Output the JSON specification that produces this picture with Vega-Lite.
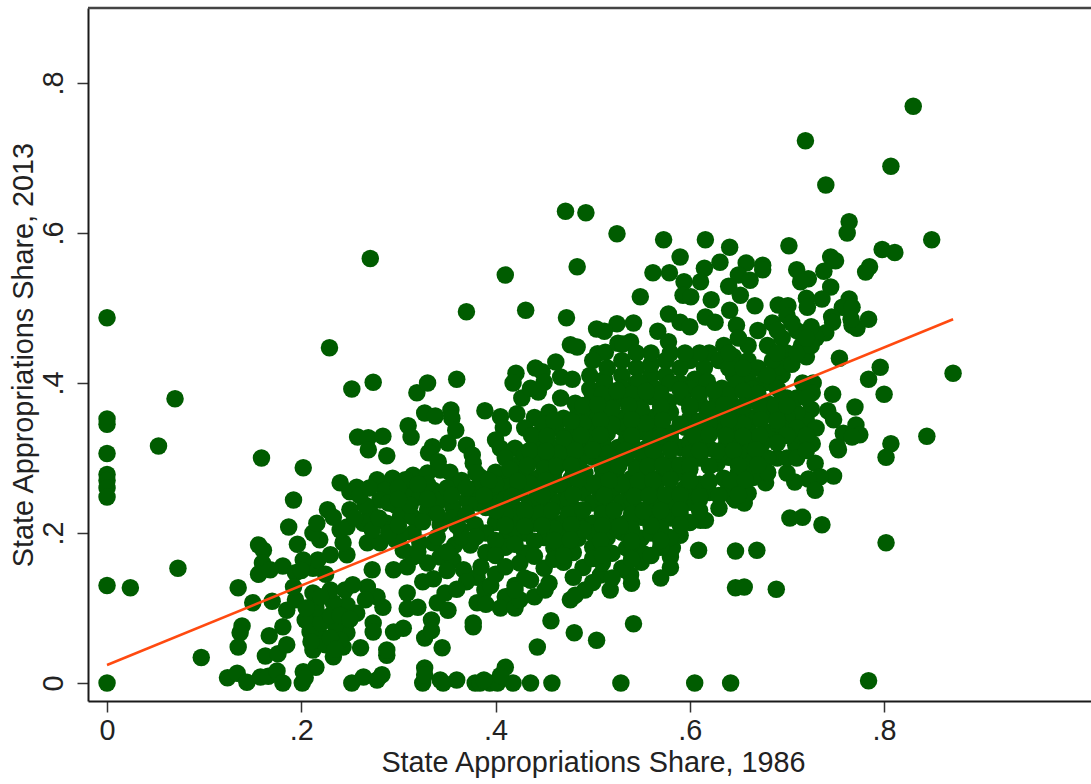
{"$schema":"https://vega.github.io/schema/vega-lite/v6.json","width":1003,"height":693,"autosize":"none","padding":{"left":88,"top":8,"right":0,"bottom":83},"background":"white","config":{"view":{"stroke":null},"font":"Liberation Sans"},
"layer":[
{"data":{"values":[
{"x":0,"y":0.487},{"x":0,"y":0.352},{"x":0,"y":0.345},{"x":0,"y":0.306},{"x":0,"y":0.278},{"x":0,"y":0.27},{"x":0,"y":0.26},{"x":0,"y":0.248},{"x":0,"y":0.13},{"x":0,"y":0},{"x":0.024,"y":0.127},{"x":0.053,"y":0.316},{"x":0.07,"y":0.379},{"x":0.073,"y":0.153},{"x":0.097,"y":0.034},
{"x":0.83,"y":0.769},{"x":0.719,"y":0.723},{"x":0.74,"y":0.664},{"x":0.807,"y":0.689},{"x":0.849,"y":0.591},{"x":0.811,"y":0.574},{"x":0.798,"y":0.578},{"x":0.785,"y":0.555},{"x":0.781,"y":0.548},{"x":0.271,"y":0.566},{"x":0.37,"y":0.495},{"x":0.229,"y":0.447},{"x":0.252,"y":0.392},{"x":0.274,"y":0.401},
{"x":0.159,"y":0.3},{"x":0.202,"y":0.287},{"x":0.192,"y":0.244},{"x":0.187,"y":0.208},{"x":0.196,"y":0.185},{"x":0.156,"y":0.184},{"x":0.161,"y":0.177},{"x":0.16,"y":0.16},{"x":0.156,"y":0.145},{"x":0.181,"y":0.156},{"x":0.168,"y":0.151},{"x":0.194,"y":0.147},{"x":0.135,"y":0.127},{"x":0.15,"y":0.107},{"x":0.17,"y":0.109},{"x":0.139,"y":0.076},{"x":0.137,"y":0.067},{"x":0.135,"y":0.048},{"x":0.167,"y":0.063},{"x":0.163,"y":0.036},{"x":0.176,"y":0.039},{"x":0.185,"y":0.051},{"x":0.181,"y":0.075},
{"x":0.124,"y":0.007},{"x":0.134,"y":0.013},{"x":0.144,"y":0.001},{"x":0.158,"y":0.008},{"x":0.166,"y":0.009},{"x":0.175,"y":0.016},{"x":0.181,"y":0},{"x":0.201,"y":0},{"x":0.202,"y":0.015},{"x":0.215,"y":0.021},{"x":0.204,"y":0.007},{"x":0.252,"y":0},{"x":0.264,"y":0.008},{"x":0.278,"y":0.004},{"x":0.283,"y":0.011},{"x":0.327,"y":0.02},{"x":0.325,"y":0},{"x":0.343,"y":0.004},{"x":0.36,"y":0.004},{"x":0.379,"y":0},{"x":0.327,"y":0.011},{"x":0.346,"y":0},
{"x":0.345,"y":0.047},{"x":0.327,"y":0.06},{"x":0.288,"y":0.037},{"x":0.288,"y":0.044},{"x":0.261,"y":0.047},{"x":0.274,"y":0.08},{"x":0.274,"y":0.068},{"x":0.295,"y":0.068},{"x":0.305,"y":0.073},{"x":0.377,"y":0.075},{"x":0.377,"y":0.08},{"x":0.309,"y":0.12},{"x":0.309,"y":0.099},{"x":0.32,"y":0.101},{"x":0.334,"y":0.084},{"x":0.34,"y":0.107},{"x":0.348,"y":0.12},{"x":0.351,"y":0.097},{"x":0.325,"y":0.135},{"x":0.336,"y":0.139},{"x":0.381,"y":0.107},{"x":0.334,"y":0.07},
{"x":0.233,"y":0.035},{"x":0.212,"y":0.044},{"x":0.243,"y":0.048},{"x":0.247,"y":0.067},{"x":0.257,"y":0.093},{"x":0.247,"y":0.104},{"x":0.233,"y":0.107},{"x":0.219,"y":0.088},{"x":0.185,"y":0.097},{"x":0.194,"y":0.111},{"x":0.212,"y":0.12},{"x":0.192,"y":0.128},{"x":0.204,"y":0.084},{"x":0.219,"y":0.064},{"x":0.235,"y":0.077},{"x":0.225,"y":0.051},{"x":0.24,"y":0.057},{"x":0.209,"y":0.068},{"x":0.23,"y":0.124},{"x":0.245,"y":0.124},{"x":0.284,"y":0.101},{"x":0.278,"y":0.115},{"x":0.268,"y":0.128},{"x":0.253,"y":0.131},{"x":0.266,"y":0.111},
{"x":0.309,"y":0.155},{"x":0.295,"y":0.151},{"x":0.273,"y":0.151},{"x":0.247,"y":0.171},{"x":0.243,"y":0.187},{"x":0.23,"y":0.171},{"x":0.212,"y":0.153},{"x":0.217,"y":0.164},{"x":0.202,"y":0.164},{"x":0.219,"y":0.191},{"x":0.212,"y":0.2},{"x":0.216,"y":0.213},{"x":0.227,"y":0.231},{"x":0.24,"y":0.204},{"x":0.25,"y":0.231},{"x":0.233,"y":0.221},{"x":0.247,"y":0.208},{"x":0.24,"y":0.267},{"x":0.257,"y":0.261},{"x":0.25,"y":0.255},{"x":0.278,"y":0.271},{"x":0.294,"y":0.273},{"x":0.286,"y":0.257},{"x":0.271,"y":0.227},{"x":0.268,"y":0.187},{"x":0.281,"y":0.187},{"x":0.281,"y":0.244},{"x":0.264,"y":0.213},{"x":0.288,"y":0.213},{"x":0.309,"y":0.253},{"x":0.315,"y":0.277},{"x":0.33,"y":0.28},{"x":0.343,"y":0.284},{"x":0.353,"y":0.281},{"x":0.36,"y":0.264},{"x":0.322,"y":0.248},{"x":0.336,"y":0.257},{"x":0.302,"y":0.221},{"x":0.315,"y":0.221},{"x":0.33,"y":0.231},{"x":0.343,"y":0.244},{"x":0.356,"y":0.235},{"x":0.371,"y":0.244},{"x":0.381,"y":0.24},
{"x":0.315,"y":0.168},{"x":0.305,"y":0.177},{"x":0.322,"y":0.187},{"x":0.315,"y":0.2},{"x":0.336,"y":0.187},{"x":0.343,"y":0.168},{"x":0.356,"y":0.164},{"x":0.367,"y":0.151},{"x":0.381,"y":0.141},{"x":0.297,"y":0.191},{"x":0.297,"y":0.237},{"x":0.273,"y":0.204},{"x":0.266,"y":0.237},{"x":0.312,"y":0.237},{"x":0.302,"y":0.197},{"x":0.343,"y":0.211},{"x":0.364,"y":0.204},{"x":0.379,"y":0.211},{"x":0.374,"y":0.184},{"x":0.358,"y":0.184},
{"x":0.258,"y":0.328},{"x":0.269,"y":0.327},{"x":0.269,"y":0.311},{"x":0.284,"y":0.329},{"x":0.288,"y":0.303},{"x":0.31,"y":0.343},{"x":0.313,"y":0.328},{"x":0.327,"y":0.36},{"x":0.338,"y":0.356},{"x":0.354,"y":0.364},{"x":0.355,"y":0.353},{"x":0.359,"y":0.337},{"x":0.351,"y":0.32},{"x":0.335,"y":0.315},{"x":0.331,"y":0.307},{"x":0.37,"y":0.317},{"x":0.376,"y":0.304},{"x":0.377,"y":0.293},{"x":0.341,"y":0.295},{"x":0.319,"y":0.387},{"x":0.33,"y":0.4},{"x":0.36,"y":0.405},{"x":0.307,"y":0.271},
{"x":0.389,"y":0.124},{"x":0.395,"y":0.13},{"x":0.41,"y":0.115},{"x":0.42,"y":0.13},{"x":0.405,"y":0.1},{"x":0.39,"y":0.105},{"x":0.42,"y":0.1},{"x":0.44,"y":0.115},{"x":0.443,"y":0.048},{"x":0.457,"y":0.083},{"x":0.481,"y":0.067},{"x":0.504,"y":0.057},{"x":0.542,"y":0.079},
{"x":0.384,"y":0},{"x":0.394,"y":0},{"x":0.402,"y":0},{"x":0.41,"y":0.021},{"x":0.418,"y":0},{"x":0.436,"y":0},{"x":0.458,"y":0},{"x":0.529,"y":0},{"x":0.605,"y":0},{"x":0.642,"y":0},{"x":0.784,"y":0.003},{"x":0.388,"y":0.004},{"x":0.405,"y":0.01},
{"x":0.647,"y":0.176},{"x":0.669,"y":0.177},{"x":0.647,"y":0.127},{"x":0.656,"y":0.128},{"x":0.689,"y":0.125},{"x":0.647,"y":0.244},{"x":0.656,"y":0.24},{"x":0.609,"y":0.177},{"x":0.58,"y":0.168},{"x":0.582,"y":0.18},{"x":0.611,"y":0.217},{"x":0.616,"y":0.217},{"x":0.59,"y":0.197},{"x":0.554,"y":0.171},{"x":0.533,"y":0.151},{"x":0.518,"y":0.124},{"x":0.539,"y":0.144},{"x":0.508,"y":0.144},{"x":0.492,"y":0.124},{"x":0.477,"y":0.111},{"x":0.482,"y":0.117},{"x":0.451,"y":0.124},{"x":0.436,"y":0.137},{"x":0.425,"y":0.111},{"x":0.42,"y":0.124},
{"x":0.472,"y":0.629},{"x":0.493,"y":0.627},{"x":0.525,"y":0.599},{"x":0.41,"y":0.544},{"x":0.484,"y":0.555},{"x":0.431,"y":0.497},{"x":0.473,"y":0.487},{"x":0.573,"y":0.591},{"x":0.616,"y":0.591},{"x":0.641,"y":0.581},{"x":0.59,"y":0.568},{"x":0.702,"y":0.583},{"x":0.764,"y":0.615},{"x":0.762,"y":0.6},{"x":0.562,"y":0.547},{"x":0.579,"y":0.547},{"x":0.615,"y":0.553},{"x":0.631,"y":0.561},{"x":0.594,"y":0.535},{"x":0.611,"y":0.535},{"x":0.549,"y":0.515},{"x":0.593,"y":0.517},{"x":0.601,"y":0.515},{"x":0.622,"y":0.511},{"x":0.658,"y":0.56},{"x":0.675,"y":0.557},{"x":0.675,"y":0.551},{"x":0.65,"y":0.544},{"x":0.662,"y":0.537},{"x":0.64,"y":0.529},{"x":0.652,"y":0.517},{"x":0.71,"y":0.551},{"x":0.722,"y":0.539},{"x":0.714,"y":0.535},{"x":0.745,"y":0.568},{"x":0.75,"y":0.563},{"x":0.738,"y":0.549},{"x":0.745,"y":0.528},{"x":0.736,"y":0.512},{"x":0.72,"y":0.513},{"x":0.764,"y":0.512},{"x":0.757,"y":0.501},{"x":0.767,"y":0.501},{"x":0.746,"y":0.488},{"x":0.747,"y":0.481},{"x":0.74,"y":0.467},{"x":0.767,"y":0.477},{"x":0.772,"y":0.473},{"x":0.754,"y":0.433},
{"x":0.641,"y":0.497},{"x":0.667,"y":0.503},{"x":0.691,"y":0.504},{"x":0.701,"y":0.503},{"x":0.721,"y":0.501},{"x":0.578,"y":0.492},{"x":0.616,"y":0.488},{"x":0.626,"y":0.481},{"x":0.648,"y":0.477},{"x":0.59,"y":0.481},{"x":0.6,"y":0.475},{"x":0.567,"y":0.469},{"x":0.578,"y":0.455},{"x":0.542,"y":0.48},{"x":0.525,"y":0.479},{"x":0.504,"y":0.472},{"x":0.512,"y":0.469},{"x":0.477,"y":0.451},{"x":0.484,"y":0.448},{"x":0.505,"y":0.439},{"x":0.513,"y":0.441},{"x":0.526,"y":0.453},{"x":0.539,"y":0.455},{"x":0.531,"y":0.452},{"x":0.462,"y":0.428},{"x":0.441,"y":0.42},{"x":0.421,"y":0.413},{"x":0.418,"y":0.4},{"x":0.448,"y":0.415},{"x":0.467,"y":0.408},{"x":0.479,"y":0.405},{"x":0.427,"y":0.38},{"x":0.444,"y":0.388},{"x":0.389,"y":0.363},{"x":0.405,"y":0.355},{"x":0.408,"y":0.34},{"x":0.422,"y":0.359},{"x":0.4,"y":0.324},{"x":0.405,"y":0.313},
{"x":0.747,"y":0.385},{"x":0.725,"y":0.365},{"x":0.742,"y":0.363},{"x":0.748,"y":0.351},{"x":0.77,"y":0.368},{"x":0.758,"y":0.333},{"x":0.753,"y":0.311},{"x":0.729,"y":0.293},{"x":0.748,"y":0.276},{"x":0.734,"y":0.275},{"x":0.722,"y":0.272},{"x":0.708,"y":0.268},{"x":0.726,"y":0.319},{"x":0.709,"y":0.317},{"x":0.714,"y":0.331},{"x":0.716,"y":0.4},{"x":0.727,"y":0.4},{"x":0.726,"y":0.387},{"x":0.695,"y":0.411},{"x":0.691,"y":0.421},{"x":0.678,"y":0.267},{"x":0.657,"y":0.271},{"x":0.595,"y":0.26},{"x":0.609,"y":0.26},{"x":0.645,"y":0.247},
{"x":0.871,"y":0.413},{"x":0.844,"y":0.329},{"x":0.807,"y":0.319},{"x":0.802,"y":0.301},{"x":0.8,"y":0.385},{"x":0.796,"y":0.421},{"x":0.784,"y":0.405},{"x":0.784,"y":0.485},{"x":0.766,"y":0.485},{"x":0.771,"y":0.344},{"x":0.775,"y":0.331},{"x":0.767,"y":0.328},{"x":0.752,"y":0.315},{"x":0.802,"y":0.187},{"x":0.736,"y":0.211},{"x":0.703,"y":0.22},{"x":0.716,"y":0.221},{"x":0.729,"y":0.257},
{"x":0.72,"y":0.35},{"x":0.71,"y":0.36},{"x":0.73,"y":0.34},{"x":0.7,"y":0.35},{"x":0.69,"y":0.3},{"x":0.7,"y":0.28},{"x":0.685,"y":0.33},{"x":0.7,"y":0.38},{"x":0.68,"y":0.28},
{"x":0.62,"y":0.44},{"x":0.635,"y":0.45},{"x":0.6,"y":0.43},{"x":0.615,"y":0.42},{"x":0.63,"y":0.43},{"x":0.645,"y":0.435},{"x":0.66,"y":0.43},{"x":0.67,"y":0.42},{"x":0.685,"y":0.43},{"x":0.7,"y":0.44},{"x":0.715,"y":0.45},{"x":0.73,"y":0.46},{"x":0.68,"y":0.45},{"x":0.695,"y":0.46},{"x":0.71,"y":0.47},{"x":0.725,"y":0.475},{"x":0.67,"y":0.47},{"x":0.685,"y":0.48},{"x":0.7,"y":0.49},{"x":0.72,"y":0.435},{"x":0.705,"y":0.425},{"x":0.66,"y":0.41},{"x":0.675,"y":0.4},{"x":0.645,"y":0.41},
{"x":0.5,"y":0.43},{"x":0.515,"y":0.42},{"x":0.53,"y":0.43},{"x":0.545,"y":0.42},{"x":0.56,"y":0.41},{"x":0.575,"y":0.43},{"x":0.59,"y":0.42},{"x":0.605,"y":0.405},{"x":0.497,"y":0.41},{"x":0.512,"y":0.405},{"x":0.53,"y":0.41},{"x":0.545,"y":0.4},{"x":0.56,"y":0.425},{"x":0.575,"y":0.41},{"x":0.59,"y":0.4},
{"x":0.436,"y":0.393},{"x":0.45,"y":0.401},{"x":0.497,"y":0.392},{"x":0.512,"y":0.4},{"x":0.53,"y":0.393},{"x":0.548,"y":0.401},{"x":0.565,"y":0.392},{"x":0.58,"y":0.4},{"x":0.6,"y":0.392},{"x":0.618,"y":0.402},{"x":0.633,"y":0.393},{"x":0.648,"y":0.4},{"x":0.665,"y":0.392},{"x":0.68,"y":0.401},{"x":0.69,"y":0.393},
{"x":0.467,"y":0.38},{"x":0.482,"y":0.373},{"x":0.5,"y":0.381},{"x":0.515,"y":0.374},{"x":0.53,"y":0.38},{"x":0.546,"y":0.373},{"x":0.56,"y":0.382},{"x":0.578,"y":0.375},{"x":0.592,"y":0.381},{"x":0.61,"y":0.373},{"x":0.628,"y":0.38},{"x":0.642,"y":0.374},{"x":0.665,"y":0.381},{"x":0.68,"y":0.373},{"x":0.695,"y":0.38},
{"x":0.44,"y":0.354},{"x":0.455,"y":0.361},{"x":0.47,"y":0.353},{"x":0.485,"y":0.36},{"x":0.5,"y":0.355},{"x":0.516,"y":0.361},{"x":0.53,"y":0.353},{"x":0.548,"y":0.36},{"x":0.562,"y":0.354},{"x":0.58,"y":0.361},{"x":0.6,"y":0.353},{"x":0.618,"y":0.36},{"x":0.632,"y":0.355},{"x":0.648,"y":0.361},{"x":0.665,"y":0.353},{"x":0.68,"y":0.36},{"x":0.7,"y":0.355},
{"x":0.43,"y":0.34},{"x":0.445,"y":0.333},{"x":0.462,"y":0.341},{"x":0.478,"y":0.334},{"x":0.5,"y":0.34},{"x":0.515,"y":0.333},{"x":0.53,"y":0.341},{"x":0.548,"y":0.335},{"x":0.562,"y":0.34},{"x":0.58,"y":0.333},{"x":0.595,"y":0.341},{"x":0.612,"y":0.334},{"x":0.628,"y":0.34},{"x":0.645,"y":0.333},{"x":0.66,"y":0.341},{"x":0.68,"y":0.334},{"x":0.695,"y":0.34},
{"x":0.42,"y":0.313},{"x":0.445,"y":0.32},{"x":0.458,"y":0.314},{"x":0.475,"y":0.321},{"x":0.49,"y":0.313},{"x":0.51,"y":0.32},{"x":0.526,"y":0.314},{"x":0.54,"y":0.321},{"x":0.555,"y":0.313},{"x":0.57,"y":0.32},{"x":0.59,"y":0.314},{"x":0.6,"y":0.321},{"x":0.62,"y":0.313},{"x":0.638,"y":0.32},{"x":0.66,"y":0.314},{"x":0.675,"y":0.32},
{"x":0.41,"y":0.3},{"x":0.425,"y":0.293},{"x":0.44,"y":0.301},{"x":0.455,"y":0.294},{"x":0.47,"y":0.3},{"x":0.486,"y":0.293},{"x":0.5,"y":0.301},{"x":0.52,"y":0.294},{"x":0.534,"y":0.3},{"x":0.55,"y":0.293},{"x":0.565,"y":0.301},{"x":0.58,"y":0.294},{"x":0.61,"y":0.3},{"x":0.628,"y":0.293},{"x":0.64,"y":0.301},{"x":0.66,"y":0.294},{"x":0.68,"y":0.3},
{"x":0.385,"y":0.274},{"x":0.4,"y":0.281},{"x":0.415,"y":0.273},{"x":0.43,"y":0.28},{"x":0.445,"y":0.274},{"x":0.46,"y":0.281},{"x":0.478,"y":0.273},{"x":0.492,"y":0.28},{"x":0.51,"y":0.274},{"x":0.524,"y":0.281},{"x":0.54,"y":0.273},{"x":0.555,"y":0.28},{"x":0.57,"y":0.274},{"x":0.59,"y":0.281},{"x":0.635,"y":0.273},{"x":0.65,"y":0.28},{"x":0.665,"y":0.274},{"x":0.68,"y":0.281},
{"x":0.38,"y":0.26},{"x":0.395,"y":0.253},{"x":0.41,"y":0.261},{"x":0.425,"y":0.254},{"x":0.44,"y":0.26},{"x":0.455,"y":0.253},{"x":0.47,"y":0.261},{"x":0.49,"y":0.254},{"x":0.505,"y":0.26},{"x":0.52,"y":0.253},{"x":0.535,"y":0.261},{"x":0.55,"y":0.254},{"x":0.565,"y":0.26},{"x":0.582,"y":0.253},{"x":0.6,"y":0.261},{"x":0.62,"y":0.254},{"x":0.64,"y":0.26},{"x":0.66,"y":0.253},
{"x":0.39,"y":0.234},{"x":0.405,"y":0.241},{"x":0.42,"y":0.233},{"x":0.435,"y":0.24},{"x":0.45,"y":0.234},{"x":0.465,"y":0.241},{"x":0.48,"y":0.233},{"x":0.5,"y":0.24},{"x":0.515,"y":0.234},{"x":0.53,"y":0.241},{"x":0.545,"y":0.233},{"x":0.56,"y":0.24},{"x":0.58,"y":0.234},{"x":0.6,"y":0.241},{"x":0.63,"y":0.233},
{"x":0.4,"y":0.214},{"x":0.42,"y":0.221},{"x":0.44,"y":0.213},{"x":0.455,"y":0.22},{"x":0.47,"y":0.214},{"x":0.485,"y":0.221},{"x":0.5,"y":0.213},{"x":0.52,"y":0.22},{"x":0.535,"y":0.214},{"x":0.55,"y":0.221},{"x":0.57,"y":0.213},{"x":0.58,"y":0.22},{"x":0.6,"y":0.214},
{"x":0.39,"y":0.2},{"x":0.41,"y":0.193},{"x":0.43,"y":0.2},{"x":0.45,"y":0.194},{"x":0.47,"y":0.201},{"x":0.485,"y":0.193},{"x":0.5,"y":0.2},{"x":0.515,"y":0.194},{"x":0.53,"y":0.201},{"x":0.55,"y":0.193},{"x":0.56,"y":0.2},{"x":0.58,"y":0.194},
{"x":0.39,"y":0.174},{"x":0.41,"y":0.181},{"x":0.43,"y":0.173},{"x":0.46,"y":0.18},{"x":0.48,"y":0.174},{"x":0.5,"y":0.181},{"x":0.52,"y":0.173},{"x":0.535,"y":0.18},{"x":0.55,"y":0.174},{"x":0.57,"y":0.181},
{"x":0.425,"y":0.16},{"x":0.45,"y":0.153},{"x":0.47,"y":0.161},{"x":0.49,"y":0.154},{"x":0.51,"y":0.16},{"x":0.53,"y":0.153},{"x":0.55,"y":0.161},{"x":0.58,"y":0.154},
{"x":0.43,"y":0.14},{"x":0.455,"y":0.133},{"x":0.48,"y":0.141},{"x":0.5,"y":0.134},{"x":0.52,"y":0.14},{"x":0.54,"y":0.133},{"x":0.57,"y":0.14},
{"x":0.51,"y":0.385},{"x":0.54,"y":0.385},{"x":0.57,"y":0.386},{"x":0.61,"y":0.385},{"x":0.64,"y":0.384},{"x":0.67,"y":0.386},
{"x":0.49,"y":0.365},{"x":0.52,"y":0.366},{"x":0.55,"y":0.365},{"x":0.57,"y":0.364},{"x":0.6,"y":0.366},{"x":0.62,"y":0.365},{"x":0.655,"y":0.366},{"x":0.69,"y":0.365},
{"x":0.45,"y":0.345},{"x":0.49,"y":0.346},{"x":0.52,"y":0.345},{"x":0.555,"y":0.346},{"x":0.59,"y":0.345},{"x":0.62,"y":0.346},{"x":0.655,"y":0.345},{"x":0.69,"y":0.346},
{"x":0.44,"y":0.325},{"x":0.47,"y":0.326},{"x":0.5,"y":0.325},{"x":0.535,"y":0.326},{"x":0.56,"y":0.325},{"x":0.58,"y":0.326},{"x":0.61,"y":0.325},{"x":0.65,"y":0.326},{"x":0.67,"y":0.325},
{"x":0.43,"y":0.305},{"x":0.465,"y":0.306},{"x":0.495,"y":0.305},{"x":0.515,"y":0.306},{"x":0.56,"y":0.305},{"x":0.6,"y":0.306},{"x":0.63,"y":0.305},{"x":0.65,"y":0.306},
{"x":0.415,"y":0.285},{"x":0.45,"y":0.286},{"x":0.48,"y":0.285},{"x":0.51,"y":0.286},{"x":0.545,"y":0.285},{"x":0.575,"y":0.286},{"x":0.6,"y":0.285},
{"x":0.4,"y":0.265},{"x":0.435,"y":0.266},{"x":0.465,"y":0.265},{"x":0.5,"y":0.266},{"x":0.53,"y":0.265},{"x":0.56,"y":0.266},{"x":0.61,"y":0.265},{"x":0.65,"y":0.266},
{"x":0.41,"y":0.245},{"x":0.445,"y":0.246},{"x":0.475,"y":0.245},{"x":0.51,"y":0.246},{"x":0.54,"y":0.245},{"x":0.57,"y":0.246},{"x":0.61,"y":0.245},
{"x":0.41,"y":0.225},{"x":0.445,"y":0.226},{"x":0.475,"y":0.225},{"x":0.51,"y":0.226},{"x":0.54,"y":0.225},{"x":0.56,"y":0.226},{"x":0.59,"y":0.225},
{"x":0.42,"y":0.205},{"x":0.46,"y":0.206},{"x":0.49,"y":0.205},{"x":0.525,"y":0.206},{"x":0.54,"y":0.205},{"x":0.57,"y":0.206},
{"x":0.42,"y":0.185},{"x":0.47,"y":0.186},{"x":0.51,"y":0.185},{"x":0.54,"y":0.186},{"x":0.46,"y":0.165},{"x":0.5,"y":0.166},{"x":0.54,"y":0.165},
{"x":0.2,"y":0.15},{"x":0.225,"y":0.145},{"x":0.22,"y":0.08},{"x":0.23,"y":0.09},{"x":0.215,"y":0.1},{"x":0.23,"y":0.06},{"x":0.24,"y":0.09},{"x":0.205,"y":0.1},{"x":0.22,"y":0.115},{"x":0.21,"y":0.055},{"x":0.235,"y":0.045},{"x":0.25,"y":0.085},{"x":0.29,"y":0.24},{"x":0.3,"y":0.26},{"x":0.33,"y":0.265},{"x":0.35,"y":0.26},{"x":0.365,"y":0.27},{"x":0.32,"y":0.265},{"x":0.34,"y":0.225},{"x":0.355,"y":0.22},{"x":0.325,"y":0.215},{"x":0.29,"y":0.2},{"x":0.28,"y":0.22},{"x":0.255,"y":0.22},{"x":0.26,"y":0.25},{"x":0.27,"y":0.26},{"x":0.3,"y":0.245},{"x":0.33,"y":0.245},{"x":0.355,"y":0.25},{"x":0.38,"y":0.28},{"x":0.37,"y":0.26},
{"x":0.525,"y":0.39},{"x":0.555,"y":0.389},{"x":0.59,"y":0.391},{"x":0.625,"y":0.39},{"x":0.655,"y":0.389},
{"x":0.49,"y":0.37},{"x":0.505,"y":0.371},{"x":0.537,"y":0.37},{"x":0.57,"y":0.369},{"x":0.6,"y":0.37},{"x":0.635,"y":0.371},{"x":0.672,"y":0.37},{"x":0.655,"y":0.369},{"x":0.688,"y":0.37},
{"x":0.46,"y":0.35},{"x":0.478,"y":0.349},{"x":0.508,"y":0.35},{"x":0.54,"y":0.351},{"x":0.572,"y":0.35},{"x":0.61,"y":0.349},{"x":0.64,"y":0.35},{"x":0.673,"y":0.351},{"x":0.69,"y":0.35},
{"x":0.437,"y":0.33},{"x":0.453,"y":0.329},{"x":0.488,"y":0.33},{"x":0.508,"y":0.331},{"x":0.54,"y":0.33},{"x":0.57,"y":0.329},{"x":0.605,"y":0.33},{"x":0.62,"y":0.331},{"x":0.637,"y":0.33},{"x":0.655,"y":0.329},{"x":0.672,"y":0.33},
{"x":0.435,"y":0.31},{"x":0.452,"y":0.309},{"x":0.482,"y":0.31},{"x":0.5,"y":0.311},{"x":0.533,"y":0.31},{"x":0.548,"y":0.309},{"x":0.562,"y":0.31},{"x":0.58,"y":0.311},{"x":0.61,"y":0.31},{"x":0.628,"y":0.309},{"x":0.645,"y":0.31},{"x":0.668,"y":0.311},
{"x":0.433,"y":0.29},{"x":0.463,"y":0.289},{"x":0.478,"y":0.29},{"x":0.51,"y":0.291},{"x":0.527,"y":0.29},{"x":0.557,"y":0.289},{"x":0.572,"y":0.29},{"x":0.59,"y":0.291},{"x":0.6,"y":0.29},{"x":0.62,"y":0.289},{"x":0.65,"y":0.29},{"x":0.67,"y":0.291},
{"x":0.393,"y":0.27},{"x":0.423,"y":0.269},{"x":0.452,"y":0.27},{"x":0.485,"y":0.271},{"x":0.517,"y":0.27},{"x":0.547,"y":0.269},{"x":0.562,"y":0.27},{"x":0.58,"y":0.271},{"x":0.6,"y":0.27},{"x":0.62,"y":0.269},{"x":0.642,"y":0.27},{"x":0.657,"y":0.271},
{"x":0.388,"y":0.25},{"x":0.417,"y":0.249},{"x":0.448,"y":0.25},{"x":0.48,"y":0.251},{"x":0.512,"y":0.25},{"x":0.543,"y":0.249},{"x":0.558,"y":0.25},{"x":0.575,"y":0.251},{"x":0.59,"y":0.25},{"x":0.61,"y":0.249},{"x":0.63,"y":0.25},{"x":0.65,"y":0.251},
{"x":0.4,"y":0.23},{"x":0.43,"y":0.229},{"x":0.458,"y":0.23},{"x":0.49,"y":0.231},{"x":0.522,"y":0.23},{"x":0.552,"y":0.229},{"x":0.57,"y":0.23},{"x":0.59,"y":0.231},{"x":0.61,"y":0.23},
{"x":0.41,"y":0.21},{"x":0.43,"y":0.209},{"x":0.448,"y":0.21},{"x":0.478,"y":0.211},{"x":0.51,"y":0.21},{"x":0.528,"y":0.209},{"x":0.56,"y":0.21},{"x":0.59,"y":0.211},
{"x":0.4,"y":0.19},{"x":0.44,"y":0.189},{"x":0.46,"y":0.19},{"x":0.477,"y":0.191},{"x":0.508,"y":0.19},{"x":0.54,"y":0.189},{"x":0.57,"y":0.19},
{"x":0.4,"y":0.17},{"x":0.44,"y":0.169},{"x":0.47,"y":0.17},{"x":0.51,"y":0.171},{"x":0.56,"y":0.17},
{"x":0.3,"y":0.21},{"x":0.32,"y":0.175},{"x":0.34,"y":0.195},{"x":0.35,"y":0.175},{"x":0.365,"y":0.195},{"x":0.38,"y":0.195},{"x":0.37,"y":0.225},{"x":0.36,"y":0.21},{"x":0.33,"y":0.16},{"x":0.35,"y":0.15},{"x":0.37,"y":0.135},{"x":0.36,"y":0.125},{"x":0.385,"y":0.155},{"x":0.4,"y":0.145},{"x":0.41,"y":0.155},
{"x":0.64,"y":0.42},{"x":0.655,"y":0.42},{"x":0.68,"y":0.41},{"x":0.69,"y":0.44},{"x":0.71,"y":0.44},{"x":0.725,"y":0.45},{"x":0.72,"y":0.46},{"x":0.705,"y":0.48},{"x":0.69,"y":0.47},{"x":0.66,"y":0.45},{"x":0.65,"y":0.46},{"x":0.64,"y":0.44},{"x":0.61,"y":0.44},{"x":0.595,"y":0.44},{"x":0.58,"y":0.44},{"x":0.56,"y":0.44},{"x":0.545,"y":0.44},
{"x":0.71,"y":0.38},{"x":0.72,"y":0.38},{"x":0.7,"y":0.37},{"x":0.71,"y":0.34},{"x":0.7,"y":0.33},{"x":0.72,"y":0.33},{"x":0.7,"y":0.3},{"x":0.71,"y":0.3},{"x":0.69,"y":0.32},{"x":0.72,"y":0.31}
]},
"mark":{"type":"circle","color":"#005c00","size":306,"opacity":1},
"encoding":{
"x":{"field":"x","type":"quantitative","scale":{"domain":[-0.0196,1.013],"nice":false,"zero":false},"axis":{"values":[0,0.2,0.4,0.6,0.8],"labelExpr":"datum.value==0?'0':replace(format(datum.value,'.1f'),'0.','.')","grid":false,"title":"State Appropriations Share, 1986","titleX":505,"domainColor":"#1a1a1a","domainWidth":2,"tickColor":"#333","tickSize":11,"tickWidth":1.5,"labelFontSize":28.8,"labelColor":"#222","labelPadding":4,"titleFontSize":28.8,"titleColor":"#222","titleFontWeight":"normal","titlePadding":4}},
"y":{"field":"y","type":"quantitative","scale":{"domain":[-0.024,0.9],"nice":false,"zero":false},"axis":{"values":[0,0.2,0.4,0.6,0.8],"labelExpr":"datum.value==0?'0':replace(format(datum.value,'.1f'),'0.','.')","grid":false,"title":"State Appropriations Share, 2013","domainColor":"#1a1a1a","domainWidth":2,"tickColor":"#333","tickSize":11,"tickWidth":1.5,"labelFontSize":28.8,"labelColor":"#222","labelAngle":-90,"labelAlign":"center","labelBaseline":"bottom","labelPadding":9,"titleFontSize":28.8,"titleColor":"#222","titleFontWeight":"normal","titlePadding":1}}
}},
{"data":{"values":[{"x":0,"y":0.024},{"x":0.871,"y":0.485}]},"mark":{"type":"line","color":"#ff4a10","strokeWidth":2.5},"encoding":{"x":{"field":"x","type":"quantitative"},"y":{"field":"y","type":"quantitative"}}},
{"data":{"values":[{"top":0.9}]},"mark":{"type":"rule","color":"#444","strokeWidth":2.5},"encoding":{"y":{"field":"top","type":"quantitative"}}}
]}
